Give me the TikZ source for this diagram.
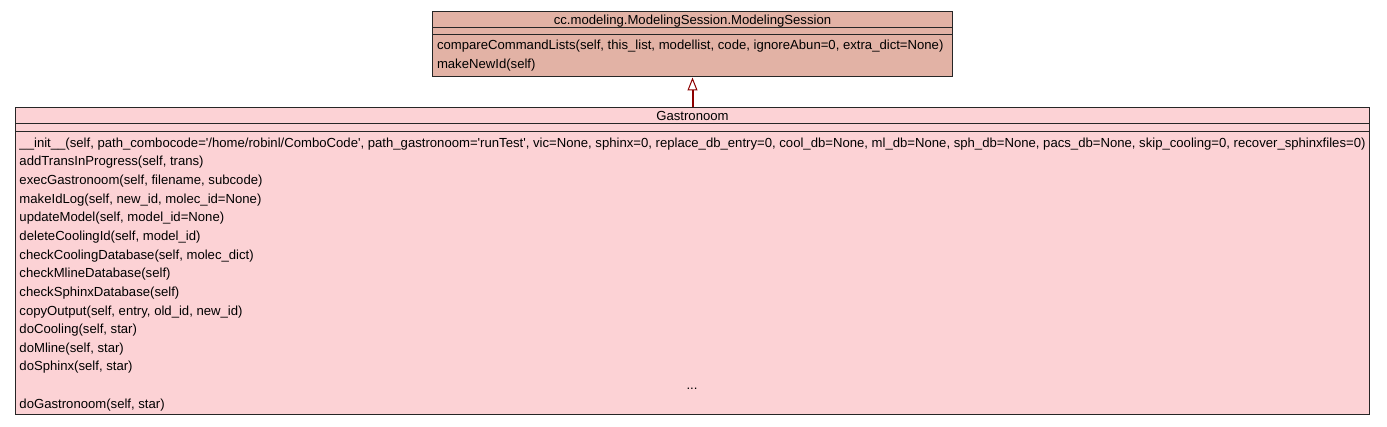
\documentclass[tikz,border=0pt]{standalone}
\usepackage{fontspec}
\setmainfont{Liberation Sans}
\usepackage{tikz}
\usetikzlibrary{arrows.meta,positioning}
\definecolor{basefill}{RGB}{226,178,165}
\definecolor{classfill}{RGB}{252,210,213}
\definecolor{inheritred}{RGB}{140,0,0}
\tikzset{
    %Define standard arrow tip
    >={Triangle[open, length=13pt, width=10pt, line width=1pt]},
    classbox/.style={
      rectangle,
      draw=black!85, line width=1pt},
    title/.style={
      rectangle,
      inner sep=0pt, outer sep=0pt,
      minimum height=17pt,
      text height=11pt, text depth=1.4pt,
      text centered},
    attr/.style={
      rectangle,
      inner sep=0pt, outer sep=0pt,
      minimum height=7pt},
    meth/.style={
      rectangle,
      inner sep=0pt, outer sep=0pt,
      minimum height=18.64pt,
      text height=11.2pt, text depth=1.2pt},
    sep/.style={
      draw=black!85, line width=1pt},
    inherit/.style={
      ->, draw=inheritred, line width=2pt},
}

\begin{document}
\begin{tikzpicture}[x=1pt, y=-1pt, node distance=0pt,
    font=\fontsize{13.13pt}{16pt}\selectfont]
    \useasboundingbox (0,0) rectangle (1387,427);
    % base class
    \node (ms) [classbox, fill=basefill, minimum width=520pt, minimum height=65.5pt]
          at (692.5,44.25) {};
    \node (mst) [title, below=of ms.north]
          {cc.modeling.ModelingSession.ModelingSession};
    \node (msa) [attr, below=of mst] {};
    \draw [sep] (ms.west |- mst.south) -- (ms.east |- mst.south);
    \draw [sep] (ms.west |- msa.south) -- (ms.east |- msa.south);
    \node (ms1) [meth, below right=0.5pt and 5pt of ms.west |- msa.south]
          {compareCommandLists(self, this\_list, modellist, code, ignoreAbun=0, extra\_dict=None)};
    \node (ms2) [meth, below right=of ms1.south west]
          {makeNewId(self)};
    % derived class
    \node (g) [classbox, fill=classfill, minimum width=1354pt, minimum height=307.5pt]
          at (692.5,261.25) {};
    \node (gt) [title, below=of g.north]
          {Gastronoom};
    \node (ga) [attr, below=of gt, minimum height=8pt] {};
    \draw [sep] (g.west |- gt.south) -- (g.east |- gt.south);
    \draw [sep] (g.west |- ga.south) -- (g.east |- ga.south);
    \node (g1) [meth, below right=1pt and 4.5pt of g.west |- ga.south]
          {\_\_init\_\_(self, path\_combocode=\textquotesingle/home/robinl/ComboCode\textquotesingle, path\_gastronoom=\textquotesingle runTest\textquotesingle, vic=None, sphinx=0, replace\_db\_entry=0, cool\_db=None, ml\_db=None, sph\_db=None, pacs\_db=None, skip\_cooling=0, recover\_sphinxfiles=0)};
    \node (g2) [meth, below right=of g1.south west]
          {addTransInProgress(self, trans)};
    \node (g3) [meth, below right=of g2.south west]
          {execGastronoom(self, filename, subcode)};
    \node (g4) [meth, below right=of g3.south west]
          {makeIdLog(self, new\_id, molec\_id=None)};
    \node (g5) [meth, below right=of g4.south west]
          {updateModel(self, model\_id=None)};
    \node (g6) [meth, below right=of g5.south west]
          {deleteCoolingId(self, model\_id)};
    \node (g7) [meth, below right=of g6.south west]
          {checkCoolingDatabase(self, molec\_dict)};
    \node (g8) [meth, below right=of g7.south west]
          {checkMlineDatabase(self)};
    \node (g9) [meth, below right=of g8.south west]
          {checkSphinxDatabase(self)};
    \node (g10) [meth, below right=of g9.south west]
          {copyOutput(self, entry, old\_id, new\_id)};
    \node (g11) [meth, below right=of g10.south west]
          {doCooling(self, star)};
    \node (g12) [meth, below right=of g11.south west]
          {doMline(self, star)};
    \node (g13) [meth, below right=of g12.south west]
          {doSphinx(self, star)};
    \node (gdots) [meth, below right=of g13.south west, text width=1345pt, align=center]
          {...};
    \node (g14) [meth, below right=of gdots.south west]
          {doGastronoom(self, star)};
    % inheritance
    \draw [inherit] (g.north) -- (ms.south);
\end{tikzpicture}
\end{document}
